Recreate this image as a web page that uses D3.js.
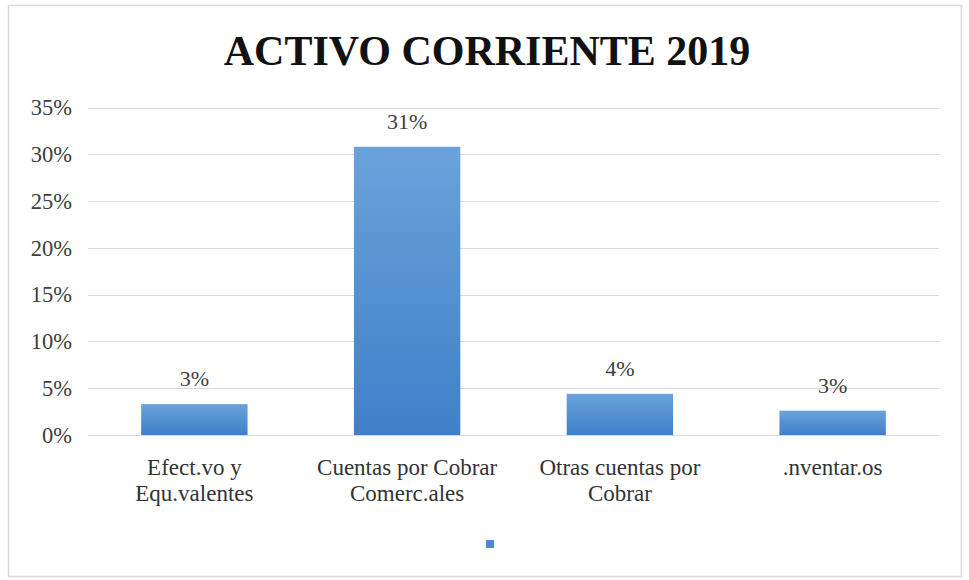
<!DOCTYPE html>
<html>
<head>
<meta charset="utf-8">
<script src="https://cdn.jsdelivr.net/npm/d3@7"></script>
<style>
  html, body { margin: 0; padding: 0; background: #fff; }
  svg { display: block; }
</style>
</head>
<body>
<svg id="chart" width="969" height="580" font-family="Liberation Serif"></svg>
<script>
// Activo corriente 2019 — share of each current-asset item
const categories = [
  ["Efect.vo y", "Equ.valentes"],
  ["Cuentas por Cobrar", "Comerc.ales"],
  ["Otras cuentas por", "Cobrar"],
  [".nventar.os"]
];
const values = [0.033, 0.308, 0.044, 0.026];
const valueLabels = ["3%", "31%", "4%", "3%"];
const yTicks = [0, 0.05, 0.10, 0.15, 0.20, 0.25, 0.30, 0.35];
const titleText = "ACTIVO CORRIENTE 2019";

const FONT = "Liberation Serif";
const svg = d3.select("#chart");
const plot = { left: 88, right: 939, top: 107.5, bottom: 435 };

// Outer frame
svg.append("rect")
  .attr("x", 8.5).attr("y", 5.5)
  .attr("width", 953).attr("height", 571)
  .attr("fill", "#fff")
  .attr("stroke", "#d9d9d9").attr("stroke-width", 1.5);

// Bar gradient
const defs = svg.append("defs");
const grad = defs.append("linearGradient")
  .attr("id", "barGrad").attr("x1", 0).attr("y1", 0).attr("x2", 0).attr("y2", 1);
grad.append("stop").attr("offset", "0%").attr("stop-color", "#6aa2dc");
grad.append("stop").attr("offset", "100%").attr("stop-color", "#3f80c8");

// Title
svg.append("text")
  .attr("x", 487).attr("y", 65)
  .attr("text-anchor", "middle")
  .attr("font-family", FONT)
  .attr("font-size", 42).attr("font-weight", "bold")
  .attr("fill", "#111")
  .text(titleText);

const x = d3.scaleBand()
  .domain(d3.range(categories.length))
  .range([plot.left, plot.right])
  .paddingInner(0.5).paddingOuter(0.25);

const y = d3.scaleLinear()
  .domain([0, 0.35])
  .range([plot.bottom, plot.top]);

// Gridlines
svg.append("g")
  .selectAll("line")
  .data(yTicks)
  .join("line")
  .attr("x1", plot.left).attr("x2", plot.right)
  .attr("y1", d => Math.round(y(d)) + 0.5)
  .attr("y2", d => Math.round(y(d)) + 0.5)
  .attr("stroke", "#d9d9d9").attr("stroke-width", 1.2);

// Y axis labels
const yAxis = d3.axisLeft(y)
  .tickValues(yTicks)
  .tickFormat(d3.format(".0%"))
  .tickSize(0).tickPadding(0);
const yg = svg.append("g")
  .attr("transform", `translate(${plot.left - 16},0)`)
  .call(yAxis)
  .attr("font-family", FONT);
yg.select(".domain").remove();
yg.selectAll("text")
  .attr("font-family", FONT)
  .attr("font-size", 22.5).attr("fill", "#404040");

// Bars
svg.append("g")
  .selectAll("rect")
  .data(values)
  .join("rect")
  .attr("x", (d, i) => x(i))
  .attr("y", d => y(d))
  .attr("width", x.bandwidth())
  .attr("height", d => y(0) - y(d))
  .attr("fill", "url(#barGrad)");

// Value labels
svg.append("g")
  .selectAll("text")
  .data(values)
  .join("text")
  .attr("x", (d, i) => x(i) + x.bandwidth() / 2)
  .attr("y", d => y(d) - 18)
  .attr("text-anchor", "middle")
  .attr("font-family", FONT)
  .attr("font-size", 22).attr("fill", "#404040")
  .text((d, i) => valueLabels[i]);

// Category labels
const cat = svg.append("g")
  .selectAll("text")
  .data(categories)
  .join("text")
  .attr("x", (d, i) => x(i) + x.bandwidth() / 2)
  .attr("y", 475)
  .attr("text-anchor", "middle")
  .attr("font-family", FONT)
  .attr("font-size", 23).attr("fill", "#333");
cat.selectAll("tspan")
  .data(d => d)
  .join("tspan")
  .attr("x", function () { return d3.select(this.parentNode).attr("x"); })
  .attr("dy", (d, i) => i === 0 ? 0 : 25.5)
  .text(d => d);

// Legend marker
svg.append("rect")
  .attr("x", 486).attr("y", 540)
  .attr("width", 8).attr("height", 8)
  .attr("fill", "#4a8ad0");
</script>
</body>
</html>
